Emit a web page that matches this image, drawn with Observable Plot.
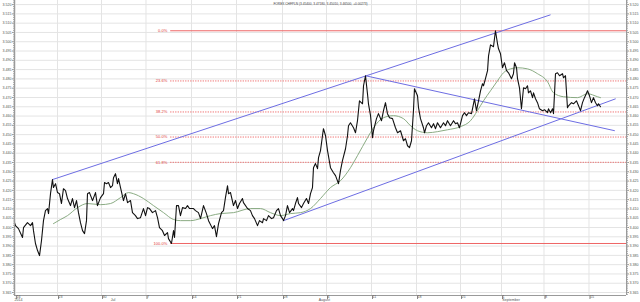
<!DOCTYPE html>
<html><head><meta charset="utf-8">
<script src="https://cdn.jsdelivr.net/npm/d3@7"></script>
<script src="https://cdn.jsdelivr.net/npm/@observablehq/plot@0.6"></script>
<style>html,body{margin:0;padding:0;background:#fff;}svg{display:block}</style>
</head><body><div id="chart"></div>
<script>
const title = "FOREX CHFPLN (3.45400, 3.47180, 3.45010, 3.46500, +0.00273)";

// price series: [trading-day index, close]
const priceSeries = [[0,3.4026],[0.11,3.4010],[0.44,3.3994],[0.89,3.3946],[1.0,3.3999],[1.44,3.4026],[1.78,3.4010],[2.0,3.4026],[2.11,3.3983],[2.33,3.3914],[2.56,3.3876],[2.78,3.3849],[3.0,3.3930],[3.22,3.4037],[3.44,3.4091],[3.67,3.4102],[3.78,3.4075],[4.0,3.4182],[4.22,3.4258],[4.33,3.4215],[4.56,3.4236],[4.78,3.4188],[5.0,3.4182],[5.22,3.4129],[5.44,3.4209],[5.67,3.4199],[5.89,3.4156],[6.22,3.4118],[6.44,3.4156],[6.67,3.4107],[6.89,3.4145],[7.11,3.4080],[7.33,3.4026],[7.56,3.3983],[7.78,3.3967],[8.0,3.4037],[8.11,3.4182],[8.33,3.4188],[8.67,3.4145],[9.0,3.4188],[9.22,3.4118],[9.56,3.4161],[9.89,3.4182],[10.0,3.4242],[10.22,3.4236],[10.44,3.4242],[10.67,3.4215],[10.89,3.4225],[11.0,3.4268],[11.22,3.4290],[11.44,3.4236],[11.56,3.4263],[11.78,3.4215],[12.11,3.4145],[12.33,3.4182],[12.56,3.4134],[12.89,3.4145],[13.11,3.4080],[13.44,3.4064],[13.67,3.4048],[14.0,3.4053],[14.33,3.4102],[14.56,3.4064],[14.78,3.4107],[15.0,3.4102],[15.33,3.4080],[15.67,3.4091],[15.89,3.4053],[16.11,3.3999],[16.44,3.3983],[16.67,3.3957],[17.0,3.3973],[17.11,3.3940],[17.44,3.3914],[17.67,3.3983],[17.78,3.3946],[18.0,3.4118],[18.22,3.4118],[18.44,3.4064],[18.67,3.4107],[19.0,3.4102],[19.22,3.4118],[19.44,3.4102],[19.89,3.4102],[20.11,3.4091],[20.44,3.4080],[20.67,3.4048],[21.0,3.4118],[21.33,3.4075],[21.56,3.4037],[22.0,3.3994],[22.22,3.4010],[22.44,3.3951],[22.67,3.4021],[23.0,3.4080],[23.22,3.4091],[23.44,3.4161],[23.67,3.4225],[23.78,3.4182],[24.0,3.4188],[24.33,3.4118],[24.56,3.4145],[24.78,3.4102],[25.0,3.4129],[25.33,3.4156],[25.44,3.4134],[25.89,3.4102],[26.22,3.4091],[26.44,3.4064],[26.67,3.4048],[27.0,3.4010],[27.22,3.4037],[27.56,3.4026],[27.67,3.4048],[28.0,3.4037],[28.22,3.4064],[28.56,3.4048],[28.78,3.4053],[29.11,3.4091],[29.33,3.4102],[29.56,3.4064],[29.78,3.4048],[29.89,3.4037],[30.11,3.4064],[30.33,3.4118],[30.56,3.4080],[30.89,3.4102],[31.0,3.4091],[31.22,3.4129],[31.44,3.4161],[31.56,3.4129],[31.89,3.4107],[32.11,3.4129],[32.44,3.4156],[32.67,3.4129],[32.89,3.4182],[33.11,3.4215],[33.22,3.4322],[33.44,3.4344],[33.67,3.4317],[33.78,3.4376],[34.0,3.4414],[34.22,3.4494],[34.33,3.4532],[34.56,3.4494],[34.78,3.4414],[35.11,3.4322],[35.44,3.4295],[35.67,3.4279],[36.0,3.4236],[36.22,3.4306],[36.44,3.4360],[36.78,3.4424],[37.0,3.4494],[37.11,3.4548],[37.33,3.4564],[37.67,3.4537],[37.89,3.4510],[38.11,3.4575],[38.33,3.4682],[38.67,3.4666],[38.78,3.4763],[39.0,3.4817],[39.22,3.4720],[39.33,3.4666],[39.56,3.4602],[39.78,3.4483],[39.89,3.4521],[40.22,3.4586],[40.44,3.4613],[40.78,3.4575],[41.0,3.4629],[41.22,3.4672],[41.44,3.4613],[41.67,3.4591],[42.0,3.4586],[42.33,3.4537],[42.56,3.4510],[42.89,3.4521],[43.22,3.4467],[43.44,3.4478],[43.67,3.4440],[43.89,3.4430],[44.11,3.4467],[44.33,3.4629],[44.44,3.4747],[44.78,3.4709],[44.89,3.4645],[45.11,3.4586],[45.44,3.4537],[45.56,3.4510],[45.78,3.4548],[46.0,3.4564],[46.33,3.4537],[46.56,3.4559],[46.78,3.4532],[47.0,3.4564],[47.33,3.4537],[47.67,3.4564],[47.89,3.4548],[48.11,3.4575],[48.44,3.4548],[48.78,3.4575],[49.0,3.4559],[49.22,3.4564],[49.44,3.4537],[49.78,3.4602],[50.0,3.4618],[50.22,3.4602],[50.44,3.4618],[50.78,3.4613],[51.0,3.4666],[51.11,3.4693],[51.33,3.4629],[51.56,3.4682],[51.78,3.4736],[52.0,3.4774],[52.11,3.4763],[52.33,3.4801],[52.56,3.4844],[52.67,3.4924],[52.89,3.4983],[53.22,3.4973],[53.44,3.5059],[53.67,3.4989],[53.78,3.4962],[54.0,3.4935],[54.22,3.4860],[54.44,3.4887],[54.67,3.4844],[54.89,3.4833],[55.22,3.4801],[55.44,3.4828],[55.56,3.4887],[55.78,3.4860],[55.89,3.4801],[56.11,3.4752],[56.33,3.4639],[56.56,3.4752],[56.78,3.4747],[57.0,3.4763],[57.11,3.4725],[57.33,3.4736],[57.56,3.4699],[57.67,3.4725],[57.89,3.4693],[58.11,3.4672],[58.33,3.4639],[58.67,3.4629],[58.89,3.4634],[59.22,3.4618],[59.33,3.4639],[59.56,3.4618],[59.78,3.4639],[59.89,3.4613],[60.11,3.4828],[60.33,3.4833],[60.56,3.4817],[60.89,3.4828],[61.0,3.4806],[61.22,3.4817],[61.44,3.4645],[61.56,3.4655],[61.89,3.4672],[62.11,3.4666],[62.44,3.4682],[62.67,3.4655],[62.89,3.4629],[63.11,3.4672],[63.33,3.4699],[63.67,3.4736],[63.89,3.4709],[64.11,3.4672],[64.33,3.4699],[64.56,3.4672],[64.78,3.4655],[64.89,3.4666],[65.11,3.4650]];

// moving average: [trading-day index, value]
const maSeries = [[4.33,3.4021],[5.11,3.4043],[5.89,3.4064],[7.0,3.4107],[8.11,3.4129],[9.56,3.4123],[10.67,3.4129],[11.78,3.4161],[12.67,3.4188],[13.22,3.4182],[14.33,3.4156],[15.44,3.4118],[16.56,3.4080],[17.67,3.4043],[18.44,3.4037],[19.56,3.4037],[20.67,3.4048],[21.78,3.4064],[22.89,3.4075],[24.33,3.4080],[26.22,3.4102],[27.33,3.4102],[28.44,3.4080],[29.56,3.4064],[30.67,3.4075],[31.78,3.4080],[32.89,3.4102],[34.0,3.4156],[35.11,3.4215],[36.22,3.4252],[37.33,3.4322],[38.11,3.4387],[39.22,3.4483],[39.89,3.4537],[41.0,3.4591],[42.11,3.4602],[43.22,3.4586],[44.0,3.4548],[44.78,3.4521],[45.89,3.4510],[47.0,3.4516],[48.11,3.4526],[49.56,3.4543],[50.67,3.4575],[51.44,3.4629],[52.11,3.4682],[52.89,3.4736],[53.67,3.4790],[54.33,3.4833],[55.11,3.4854],[55.89,3.4860],[57.0,3.4854],[58.11,3.4828],[59.22,3.4785],[59.89,3.4725],[61.0,3.4704],[62.56,3.4699],[63.67,3.4720],[64.78,3.4704],[65.11,3.4699]];

// Fibonacci retracement levels
const fibLabels = ["0.0%", "23.6%", "38.2%", "50.0%", "61.8%", "100.0%"];
const fibValues = [3.5059, 3.4789, 3.4622, 3.4487, 3.4351, 3.3914];
const fibSolid = [true, false, false, false, false, true];
const fibStartDay = 17.3;
const fibEndDay = 68;

// trend lines
const trendStartDay = [4.22, 29.9, 39.0];
const trendStartVal = [3.4258, 3.4037, 3.4817];
const trendEndDay = [59.56, 66.8, 66.7];
const trendEndVal = [3.5145, 3.4693, 3.4521];

// x axis (trading days) ticks and labels
const tickDays = [0.1, 4.78, 9.67, 14.61, 19.67, 24.67, 29.78, 34.67, 39.67, 44.67, 49.56, 54.11, 58.83, 63.83];
const tickLabels = ["16", "23", "30", "7", "14", "21", "28", "4", "11", "18", "25", "1", "8", "15"];
const monthDays = [0, 10.7, 33.8, 54.2];
const monthLabels = ["2014", "Jul", "August", "September"];

const yTicks = d3.range(3365, 3521, 5).map(v => v / 1000);
const yMinor = d3.range(3364, 3523, 1).map(v => v / 1000);

const price = priceSeries.map(([d, v]) => ({d, v}));
const ma = maSeries.map(([d, v]) => ({d, v}));
const fib = fibLabels.map((label, i) => ({label, v: fibValues[i], solid: fibSolid[i], x1: fibStartDay, x2: fibEndDay}));
const trends = trendStartDay.map((d, i) => ({x1: d, y1: trendStartVal[i], x2: trendEndDay[i], y2: trendEndVal[i]}));
const months = monthLabels.map((label, i) => ({label, d: monthDays[i]}));
const tickMap = new Map(tickDays.map((d, i) => [d, tickLabels[i]]));
const fmt = d3.format(".3f");
const FS = 3.6;
const RED = "#ee6666";

const chart = Plot.plot({
  width: 640, height: 302,
  marginLeft: 14, marginRight: 14, marginTop: 0, marginBottom: 7,
  style: {fontFamily: "Arial, 'Liberation Sans', sans-serif", background: "#fff", overflow: "visible"},
  x: {domain: [0, 68], axis: null},
  y: {domain: [3.3634, 3.5222], axis: null},
  marks: [
    Plot.gridY({ticks: yTicks, stroke: "#e4e4e4", strokeOpacity: 1}),
    Plot.gridX({ticks: tickDays, stroke: "#e4e4e4", strokeOpacity: 1}),
    Plot.link(fib.filter(f => f.solid), {x1: "x1", x2: "x2", y1: "v", y2: "v", stroke: RED, strokeOpacity: 1, strokeWidth: 1}),
    Plot.link(fib.filter(f => !f.solid), {x1: "x1", x2: "x2", y1: "v", y2: "v", stroke: RED, strokeOpacity: 1, strokeWidth: 1, strokeDasharray: "1.2,1.3"}),
    Plot.text(fib, {x: "x1", y: "v", text: "label", textAnchor: "end", dx: -3, fill: "#e03a3a", fontSize: 4}),
    Plot.link(trends, {x1: "x1", y1: "y1", x2: "x2", y2: "y2", stroke: "#6d6de3", strokeWidth: 1}),
    Plot.line(ma, {x: "d", y: "v", stroke: "#7da275", strokeWidth: 0.9, curve: "monotone-x"}),
    Plot.line(price, {x: "d", y: "v", stroke: "#111", strokeWidth: 1.1}),
    Plot.ruleX([0, 68], {stroke: "#9a9a9a"}),
    Plot.ruleY([3.3634], {stroke: "#9a9a9a"}),
    Plot.axisY({ticks: yTicks, anchor: "left", tickSize: 2, tickPadding: 1, fontSize: FS, tickFormat: fmt, stroke: "#999", fill: "#555"}),
    Plot.axisY({ticks: yTicks, anchor: "right", tickSize: 2, tickPadding: 1, fontSize: FS, tickFormat: fmt, stroke: "#999", fill: "#555"}),
    Plot.axisY({ticks: yMinor, anchor: "left", tickSize: 1, tickFormat: () => "", stroke: "#aaa"}),
    Plot.axisY({ticks: yMinor, anchor: "right", tickSize: 1, tickFormat: () => "", stroke: "#aaa"}),
    Plot.axisX({ticks: tickDays, anchor: "bottom", tickSize: 4, tickPadding: -3.6, textAnchor: "start", dx: 1, fontSize: FS, tickFormat: d => tickMap.get(d), stroke: "#888", fill: "#555"}),
    Plot.text(months, {x: "d", text: "label", frameAnchor: "bottom", lineAnchor: "top", dy: 3.4, textAnchor: "start", fontSize: FS, fill: "#555"}),
    Plot.text([title], {text: d => d, frameAnchor: "top", lineAnchor: "top", dy: 2, fontSize: 3.2, fill: "#444"})
  ]
});
document.getElementById("chart").appendChild(chart);
</script>
</body></html>
